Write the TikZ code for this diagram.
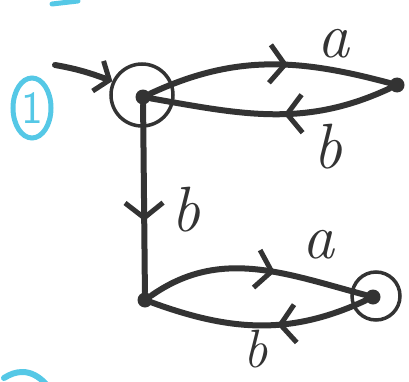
\documentclass[tikz,border=0pt]{standalone}
\usetikzlibrary{arrows.meta,decorations.markings,shapes.geometric}
\definecolor{ink}{HTML}{333333}
\definecolor{marker}{HTML}{55C8E6}
\tikzset{
  state/.style={circle, fill=ink, inner sep=0pt, minimum size=15pt},
  ring/.style={circle, draw=ink, line width=3.5pt, inner sep=0pt, minimum size=#1},
  trans/.style={draw=ink, line width=6pt, line cap=round},
  midarrow/.style={postaction={decorate}, decoration={markings,
      mark=at position #1 with {\arrow{Straight Barb[length=15pt, width=38pt, line width=5pt]}}}},
  lbl/.style={text=ink, font=\fontsize{64}{64}\selectfont\itshape, inner sep=0pt}
}
\begin{document}
\begin{tikzpicture}[x=1pt, y=1pt]
  \useasboundingbox (0,0) rectangle (409,381);

  % Marker notes (cyan)
  \node[text=marker, font=\sffamily\fontsize{46}{46}\selectfont, inner sep=0pt] (num) at (32,273) {1};
  \draw[marker, line width=5pt] (num.center) ellipse [x radius=19pt, y radius=30pt];
  \draw[marker, line width=5pt, line cap=round] (52,377) -- (78,380);
  \draw[marker, line width=6pt, line cap=round] (4,3) .. controls (15,10) and (30,14) .. (46,-3);

  % States
  \node[state] (q0) at (143,284) {};
  \node[ring=62pt] (r0) at (142,286) {};
  \node[state] (q1) at (397,296) {};
  \node[state] (q2) at (145,81) {};
  \node[state] (q3) at (373,84) {};
  \node[ring=48pt] (r3) at (376,85) {};

  % Start arrow
  \coordinate (start) at (55,316);
  \draw[trans, -{Straight Barb[length=12pt, width=32pt, line width=5pt]}] (start) to[out=-10, in=160] (r0.155);

  % Transitions
  \draw[trans, midarrow=0.58] (q0) to[out=25, in=165] (q1);
  \draw[trans, midarrow=0.45] (q1) to[out=205, in=-10] (q0);
  \draw[trans, midarrow=0.62] (q0) -- (q2);
  \draw[trans, midarrow=0.58] (q2) to[out=35, in=165] (q3);
  \draw[trans, midarrow=0.42] (q3) to[out=205, in=-20] (q2);

  % Labels
  \node[lbl] (la1) at (333,337) {a};
  \node[lbl] (lb1) at (328,234) {b};
  \node[lbl] (lb2) at (186,171) {b};
  \node[lbl] (la2) at (318,136) {a};
  \node[lbl, font=\fontsize{54}{54}\selectfont\itshape, anchor=base] (lb3) at (256,14) {b};
\end{tikzpicture}
\end{document}
